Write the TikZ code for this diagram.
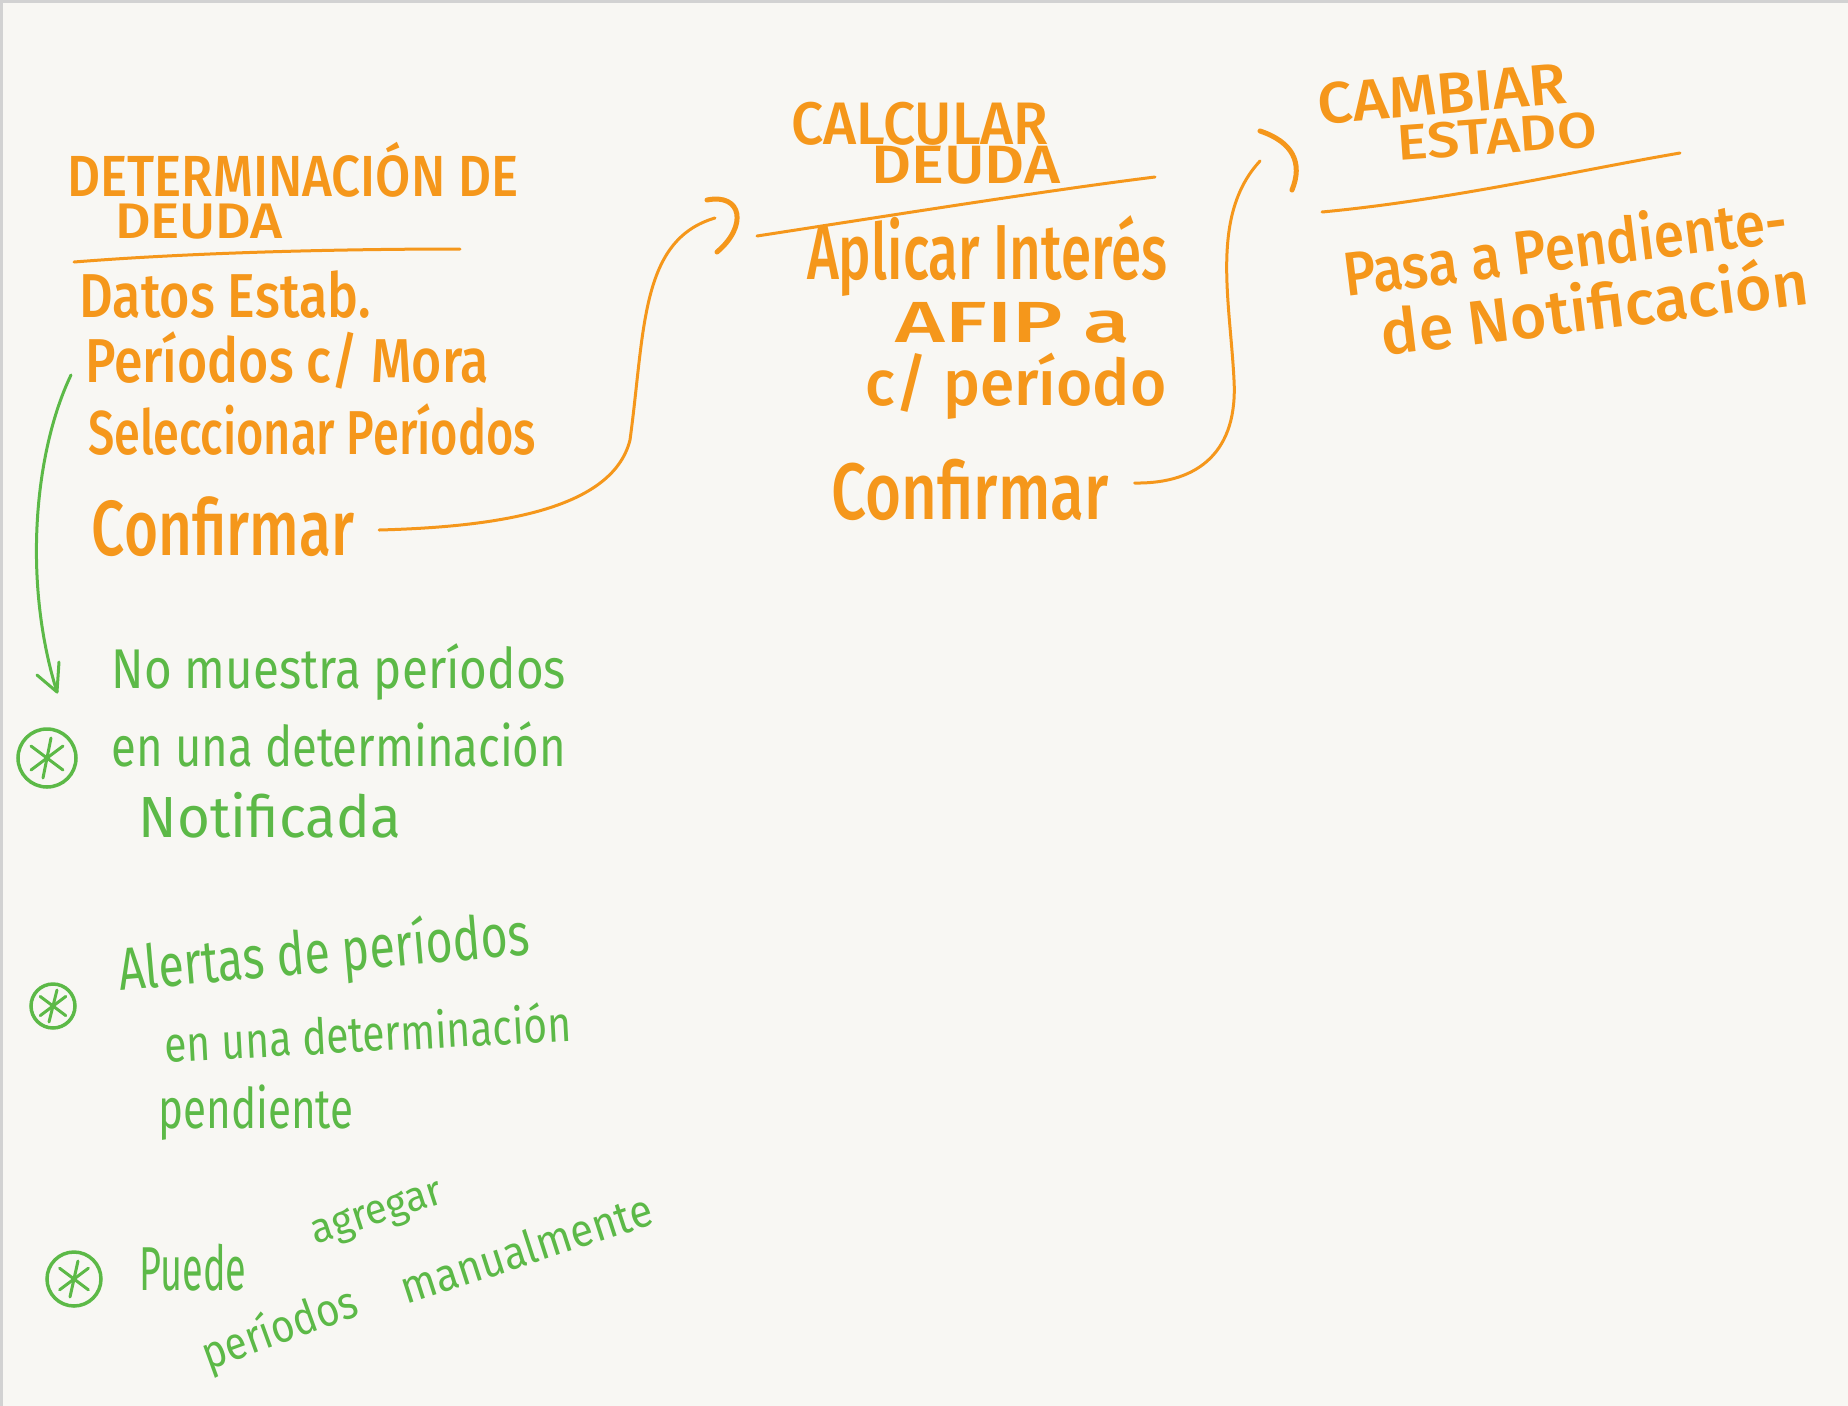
\documentclass[tikz,border=0pt]{standalone}
\usepackage{fontspec}
\setmainfont{Fira Sans}
\newfontfamily\ofont{Fira Sans Medium}
\usepackage{graphicx}
\definecolor{ora}{HTML}{F5971B}
\definecolor{grn}{HTML}{5CB947}
\definecolor{paper}{HTML}{F8F7F3}
\definecolor{edge}{HTML}{D2D2D2}
\newcommand\fw[2]{\resizebox{#1pt}{\height}{#2}}
\newcommand\fs[1]{\fontsize{#1}{#1}\selectfont}
\tikzset{
  ot/.style={text=ora, inner sep=0pt, anchor=center, font=\ofont},
  gt/.style={text=grn, inner sep=0pt, anchor=center},
  oline/.style={draw=ora, line width=3pt, line cap=round},
  ostroke/.style={draw=ora, line width=5pt, line cap=round, line join=round},
  gstroke/.style={draw=grn, line width=3pt, line cap=round, line join=round},
  gbullet/.style={circle, draw=grn, line width=3.5pt, inner sep=0pt},
}
\begin{document}
\begin{tikzpicture}[x=1pt, y=-1pt]
\useasboundingbox (0,0) rectangle (1848,1406);
\fill[paper] (0,0) rectangle (1848,1406);
\fill[edge] (0,0) rectangle (1848,3);
\fill[edge] (0,0) rectangle (3,1406);

% ---- Determinacion de deuda
\node[ot] (t1a) at (293,170) {\fs{58}\fw{451}{DETERMINACIÓN DE}};
\node[ot] (t1b) at (199,222) {\fs{50}\fw{168}{DEUDA}};
\draw[oline] (74,262) .. controls (200,252) and (350,249) .. (460,249);
\node[ot] (d1) at (225,295) {\fs{62}\fw{291}{Datos Estab.}};
\node[ot] (d2) at (287,360) {\fs{62}\fw{404}{Períodos c/ Mora}};
\node[ot] (d3) at (312,430) {\fs{62}\fw{448}{Seleccionar Períodos}};
\node[ot] (d4) at (223,527) {\fs{78}\fw{262}{Confirmar}};

% ---- Calcular deuda
\node[ot] (t2a) at (920,124) {\fs{60}\fw{257}{CALCULAR}};
\node[ot] (t2b) at (966,165) {\fs{54}\fw{189}{DEUDA}};
\draw[oline] (757,236) .. controls (900,214) and (1050,190) .. (1155,177);
\node[ot] (c1) at (987,256) {\fs{78}\fw{360}{Aplicar Interés}};
\node[ot] (c2) at (1013,323) {\fs{58}\fw{235}{AFIP a}};
\node[ot] (c3) at (1016,386) {\fs{64}\fw{301}{c/ período}};
\node[ot] (c4) at (970,490) {\fs{80}\fw{277}{Confirmar}};

% ---- Cambiar estado
\node[ot, rotate=5] (t3a) at (1442,94) {\fs{58}\fw{249}{CAMBIAR}};
\node[ot, rotate=4] (t3b) at (1497,136) {\fs{50}\fw{200}{ESTADO}};
\draw[oline] (1322,212) .. controls (1450,200) and (1580,170) .. (1680,153);
\node[ot, rotate=7] (s1) at (1565,245) {\fs{62}\fw{447}{Pasa a Pendiente-}};
\node[ot, rotate=7] (s2) at (1594,305) {\fs{62}\fw{430}{de Notificación}};

% ---- connectors (orange)
\coordinate (h1) at (715,218);
\draw[oline] (d4.east) ++(25,3) .. controls (490,527) and (612,512) .. (630,440)
   .. controls (645,330) and (640,240) .. (h1);
\draw[ostroke] (707,200) .. controls (742,193) and (748,226) .. (717,252);

\coordinate (h2) at (1260,161);
\draw[oline] (c4.east) ++(26,-7) .. controls (1200,484) and (1238,450) .. (1234,380)
   .. controls (1230,300) and (1210,215) .. (h2);
\draw[ostroke] (1260,131) .. controls (1293,142) and (1303,163) .. (1292,190);

% ---- green notes
\coordinate (g0) at (71,375);
\coordinate (g1) at (57,692);
\draw[gstroke] (g0) .. controls (35,450) and (22,580) .. (g1);
\draw[gstroke] (37,675) -- (g1) -- (59,662);

\node[gt] (n1) at (339,672) {\fs{56}\fw{454}{No muestra períodos}};
\node[gt] (n2) at (339,744) {\fs{56}\fw{454}{en una determinación}};
\node[gt] (n3) at (270,815) {\fs{58}\fw{262}{Notificada}};

\node[gt, rotate=5] (m1) at (324,955) {\fs{60}\fw{412}{Alertas de períodos}};
\node[gt, rotate=3] (m2) at (368,1032) {\fs{50}\fw{407}{en una determinación}};
\node[gt] (m3) at (256,1113) {\fs{56}\fw{195}{pendiente}};

\node[gt] (p1) at (193,1268) {\fs{62}\fw{107}{Puede}};
\node[gt, rotate=18] (p2) at (378,1216) {\fs{42}\fw{136}{agregar}};
\node[gt, rotate=20] (p3) at (280,1330) {\fs{46}\fw{162}{períodos}};
\node[gt, rotate=18] (p4) at (526,1248) {\fs{46}\fw{262}{manualmente}};

% ---- bullets
\node[gbullet, minimum width=46pt, minimum height=58pt] (b1) at (47,758) {};
\node[gbullet, minimum size=44pt] (b2) at (53,1006) {};
\node[gbullet, minimum size=54pt] (b3) at (74,1279) {};
\foreach \b/\r in {b1/20, b2/16, b3/18}{
  \draw[gstroke] ([shift={(4,-\r)}]\b.center) -- ([shift={(-4,\r)}]\b.center);
  \draw[gstroke] ([shift={(-0.8*\r,-0.6*\r)}]\b.center) -- ([shift={(0.8*\r,0.6*\r)}]\b.center);
  \draw[gstroke] ([shift={(0.8*\r,-0.6*\r)}]\b.center) -- ([shift={(-0.8*\r,0.6*\r)}]\b.center);
}
\end{tikzpicture}
\end{document}
